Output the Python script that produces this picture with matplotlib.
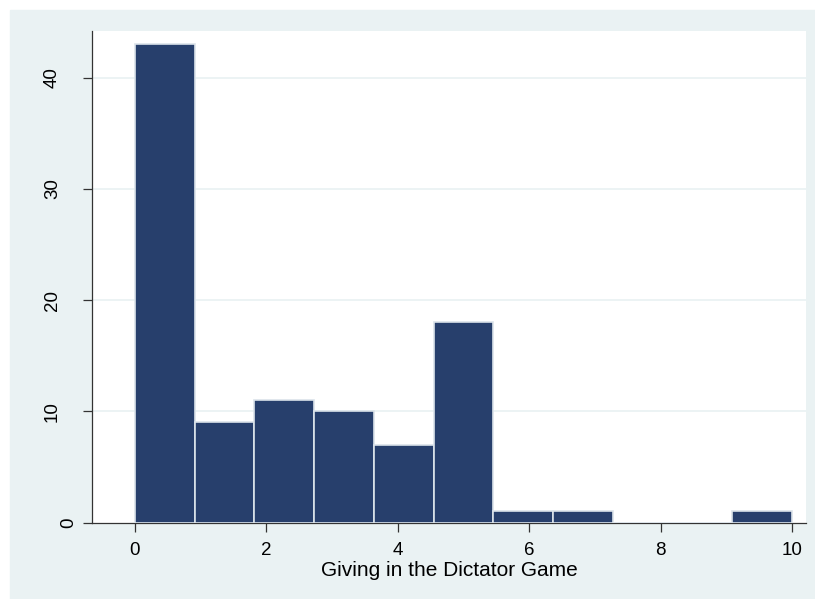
import numpy as np
import matplotlib.pyplot as plt
from matplotlib.patches import Rectangle
from matplotlib.transforms import offset_copy

plt.rcParams['font.family'] = ['Liberation Sans', 'DejaVu Sans']

# histogram of dictator game giving, 11 bins over 0..10
bin_lo = 0.0
bin_hi = 10.0
counts = [43, 9, 11, 10, 7, 18, 1, 1, 0, 0, 1]
edges = np.linspace(bin_lo, bin_hi, len(counts) + 1)

x_ticks = [0, 2, 4, 6, 8, 10]
y_ticks = [0, 10, 20, 30, 40]
y_labels = ['0', '10', '20', '30', '40']

bg = '#eaf2f3'
bar_col = '#273f6c'
axis_col = '#333333'

fig = plt.figure(figsize=(8.15, 5.99), dpi=100)
fig.patch.set_facecolor('white')
fig.patches.append(Rectangle((10 / 815, 0), 1, 1 - 10 / 599,
                             transform=fig.transFigure, color=bg, zorder=-5))

ax = fig.add_axes([92 / 815, 1 - 522.5 / 599, (806 - 92) / 815, (522.5 - 31) / 599])
ax.set_facecolor('white')

ax.bar(edges[:-1], counts, width=np.diff(edges), align='edge',
       color=bar_col, edgecolor='#dbe3ea', linewidth=1.2, zorder=3)

ax.set_xlim(-0.65, 10.21)
ax.set_ylim(0, 44.2)
ax.set_xticks(x_ticks)
ax.set_yticks(y_ticks)
ax.set_yticklabels([])
ax.tick_params(labelsize=13.5, length=6.3, width=0.9, color=axis_col)
ax.tick_params(axis='x', pad=7.4)
for y in y_ticks[1:]:
    ax.axhline(y, color=bg, lw=1.3, zorder=1)

# rotated y labels, single digit sits closer to the axis
for y, lab in zip(y_ticks, y_labels):
    dx = -10.6 if len(lab) == 1 else -22.3
    tr = offset_copy(ax.get_yaxis_transform(), fig=fig, x=dx, y=0, units='points')
    ax.text(0, y, lab, transform=tr, rotation=90, ha='right', va='center',
            fontsize=13.5, clip_on=False)

for s in ['top', 'right']:
    ax.spines[s].set_visible(False)
for s in ['left', 'bottom']:
    ax.spines[s].set_color(axis_col)
    ax.spines[s].set_linewidth(0.9)

ax.set_xlabel('Giving in the Dictator Game', fontsize=15, labelpad=1.5)

fig.savefig('out.png', dpi=100)
